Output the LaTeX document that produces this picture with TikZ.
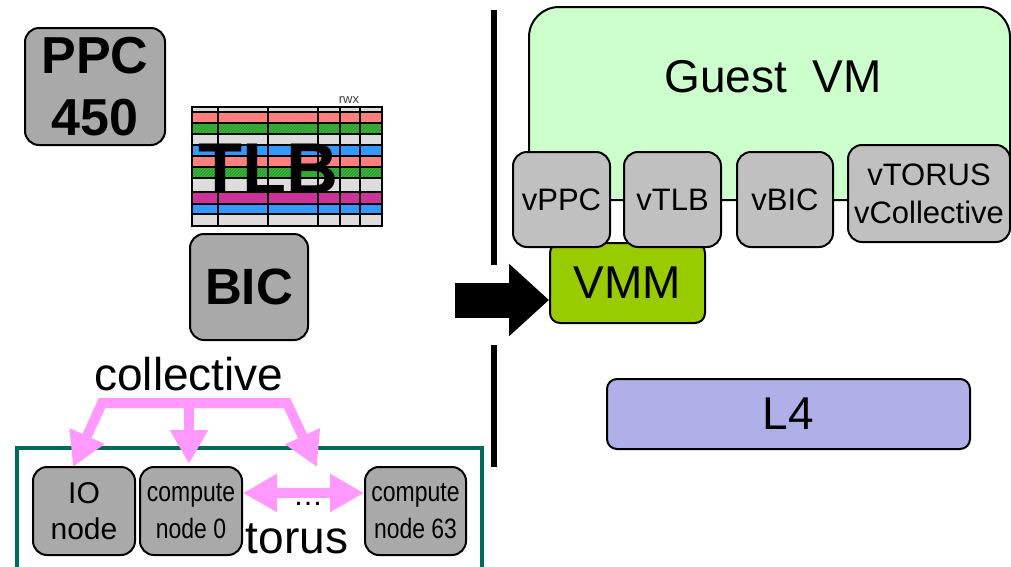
\documentclass[tikz,border=0pt]{standalone}
\usepackage{fontspec}
\setmainfont{Liberation Sans}
\usetikzlibrary{arrows.meta,calc,patterns}

\definecolor{boxgray}{HTML}{A9A9A9}
\definecolor{vgray}{HTML}{C0C0C0}
\definecolor{guestgreen}{HTML}{CCFFCC}
\definecolor{vmmgreen}{HTML}{99CC00}
\definecolor{lfour}{HTML}{B0B0E8}
\definecolor{netpink}{HTML}{FF99FF}
\definecolor{frameteal}{HTML}{006B5A}
\definecolor{tlbred}{HTML}{FF7F7F}
\definecolor{tlbgreen}{HTML}{339933}
\definecolor{tlbstripe}{HTML}{33CC33}
\definecolor{tlbgray}{HTML}{DDDDDD}
\definecolor{tlbblue}{HTML}{3399FF}
\definecolor{tlbmag}{HTML}{CC3399}

\newcommand{\fsz}[2]{\fontsize{#1}{#2}\selectfont}
\newcommand{\narrowtxt}[1]{\scalebox{0.82}[1]{#1}}

\tikzset{
  hwbox/.style={draw=black, line width=2, rounded corners=14, fill=boxgray,
    inner sep=0, align=center},
  vbox/.style={draw=black, line width=2, rounded corners=14, fill=vgray,
    inner sep=0, align=center, font=\fsz{31}{38}},
  netarrow/.style={draw=netpink, line width=10,
    arrows={-Triangle[length=34, width=36]}},
  sidebar/.style={line width=6, black},
}

\begin{document}
\begin{tikzpicture}[x=1pt, y=-1pt]
\useasboundingbox (0,0) rectangle (1011,566);

% ---------- left side: hardware ----------
\node[hwbox, minimum width=140, minimum height=117, font=\bfseries\fsz{52}{62}]
  (ppc) at (95,86.5) {PPC\\450};

% TLB table
\foreach \ya/\yb/\c in {107/112/tlbgray, 112/123/tlbred, 123/134/tlbgreen,
    134/145/tlbgray, 145/156/tlbblue, 156/167/tlbred, 167/178/tlbgreen,
    178/192/tlbgray, 192/204/tlbmag, 204/214/tlbblue, 214/226/tlbgray}
  \fill[\c] (192,\ya) rectangle (382,\yb);
\foreach \ya/\yb in {123/134, 167/178}
  \fill[pattern=north east lines, pattern color=tlbstripe] (192,\ya) rectangle (382,\yb);
\foreach \y in {112,123,134,145,156,167,178,192,204,214}
  \draw[line width=1.5] (192,\y) -- (382,\y);
\foreach \x in {218,268,318,340,360}
  \draw[line width=1.5] (\x,107) -- (\x,226);
\draw[line width=2] (192,107) rectangle (382,226);
\node[font=\fsz{13}{15}, text=black!75, anchor=base, inner sep=0] (rwx) at (349,103) {rwx};
\node[font=\bfseries\fsz{72}{72}, anchor=base, inner sep=0] (tlb) at (268,193) {TLB};

\node[hwbox, minimum width=118, minimum height=106, font=\bfseries\fsz{51}{60}]
  (bic) at (249,287) {BIC};

% network part
\node[font=\fsz{46}{50}, anchor=base, inner sep=0] (coll) at (189,390) {collective};

\draw[frameteal, line width=4] (17,570) -- (17,448) -- (482,448) -- (482,570);

\node[hwbox, minimum width=102, minimum height=88, font=\fsz{30}{36}]
  (io) at (84,511) {IO\\node};
\node[hwbox, minimum width=102, minimum height=88, font=\fsz{28}{37}]
  (cn0) at (191,511) {\narrowtxt{compute}\\\narrowtxt{node 0}};
\node[hwbox, minimum width=101, minimum height=88, font=\fsz{28}{37}]
  (cn63) at (415.5,511) {\narrowtxt{compute}\\\narrowtxt{node 63}};

\node[font=\fsz{30}{30}, anchor=base, inner sep=0] (dots) at (308,505) {…};
\node[font=\fsz{46}{50}, anchor=base, inner sep=0] (torus) at (297,553) {torus};

% collective links
\coordinate (bl) at (102,403);
\coordinate (bm) at (189,403);
\coordinate (br) at (287,403);
\coordinate (gap) at (317,467);
\draw[netarrow, arrows={Triangle[length=34, width=36]-Triangle[length=34, width=36]}]
  ($(io.north)+(-11,1)$) -- (bl) -- (br) -- (gap);
\draw[netarrow] (bm) -- ($(cn0.north)+(-2,-2)$);
% torus link
\draw[netarrow, arrows={Triangle[length=34, width=36]-Triangle[length=34, width=36]}]
  ($(cn0.east)+(0,-18)$) -- ($(cn63.west)+(0,-18)$);

% ---------- divider ----------
\draw[sidebar] (494,10) -- (494,265);
\draw[sidebar] (494,345) -- (494,467);

% ---------- right side: virtualised stack ----------
\node[draw=black, line width=2, rounded corners=30, fill=guestgreen,
  minimum width=481, minimum height=193, inner sep=0] (gvm) at (769.5,103.5) {};
\node[font=\fsz{46}{50}, anchor=base, inner sep=0] (gvmlabel) at (773,92) {Guest\ \ VM};

\node[draw=black, line width=2, rounded corners=10, fill=vmmgreen,
  minimum width=155, minimum height=80, inner sep=0, font=\fsz{46}{50}]
  (vmm) at (627.5,283) {VMM};

\node[vbox, minimum width=97, minimum height=95] (vppc) at (561.5,199.5) {vPPC};
\node[vbox, minimum width=97, minimum height=95] (vtlb) at (672.5,199.5) {vTLB};
\node[vbox, minimum width=96, minimum height=95] (vbic) at (785,199.5) {vBIC};
\node[vbox, minimum width=162, minimum height=97] (vtorus) at (929,193.5) {vTORUS\\vCollective};

\node[draw=black, line width=2, rounded corners=10, fill=lfour,
  minimum width=363, minimum height=70, inner sep=0, font=\fsz{46}{50}]
  (l4) at (788.5,414) {L4};

% hardware mapped onto the VMM
\coordinate (src) at (455,300);
\draw[black, line width=35, arrows={-Triangle[length=40, width=70]}]
  (src) -- ($(vmm.west)+(0,17)$);

\end{tikzpicture}
\end{document}
